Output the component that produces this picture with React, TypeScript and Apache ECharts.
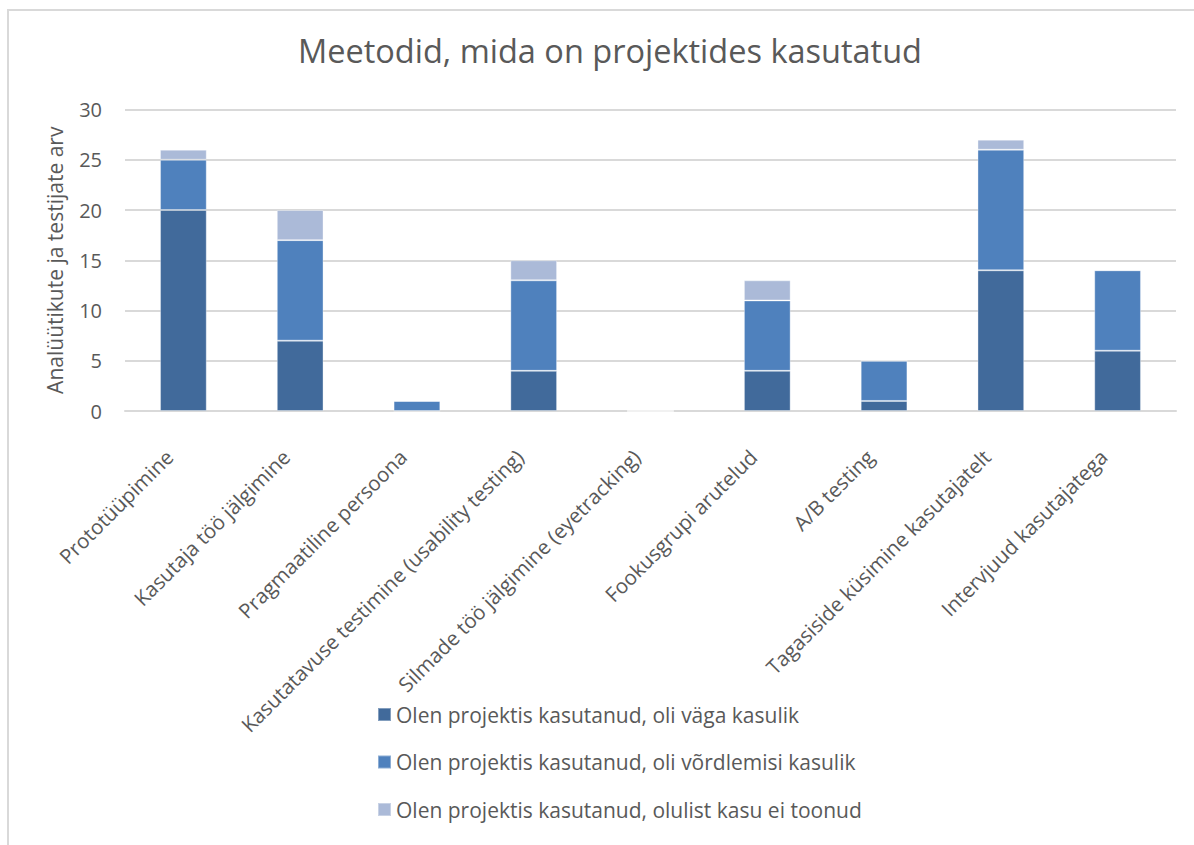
import React, { useEffect, useRef } from "react";
import * as echarts from "echarts";

const categories = [
  "Prototüüpimine",
  "Kasutaja töö jälgimine",
  "Pragmaatiline persoona",
  "Kasutatavuse testimine (usability testing)",
  "Silmade töö jälgimine (eyetracking)",
  "Fookusgrupi arutelud",
  "A/B testing",
  "Tagasiside küsimine kasutajatelt",
  "Intervjuud kasutajatega",
];
const seriesNames = [
  "Olen projektis kasutanud, oli väga kasulik",
  "Olen projektis kasutanud, oli võrdlemisi kasulik",
  "Olen projektis kasutanud, olulist kasu ei toonud",
];
const veryUseful = [20, 7, 0, 4, 0, 4, 1, 14, 6];
const fairlyUseful = [5, 10, 1, 9, 0, 7, 4, 12, 8];
const notUseful = [1, 3, 0, 2, 0, 2, 0, 1, 0];
const colors = ["#416a9b", "#4f81bd", "#abbad8"];

const FONT = "'Open Sans', 'Noto Sans', sans-serif";
const TXT = "#595959";

export default function App() {
  const ref = useRef<HTMLDivElement>(null);
  useEffect(() => {
    const chart = echarts.init(ref.current!, null, { renderer: "svg" });
    const data = [veryUseful, fairlyUseful, notUseful];
    chart.setOption({
      animation: false,
      backgroundColor: "#ffffff",
      textStyle: { fontFamily: FONT },
      title: {
        text: "Meetodid, mida on projektides kasutatud",
        left: 293,
        top: 29,
        textStyle: { fontFamily: FONT, fontSize: 32.5, fontWeight: "normal", color: TXT },
      },
      grid: { left: 125, right: 18, top: 109.5, bottom: 434, containLabel: false },
      legend: {
        orient: "vertical",
        left: 372,
        top: 695,
        itemWidth: 13,
        itemHeight: 13,
        itemGap: 18.5,
        icon: "rect",
        textStyle: { fontFamily: FONT, fontSize: 21, color: TXT, lineHeight: 29 },
        data: seriesNames,
      },
      xAxis: {
        type: "category",
        data: categories,
        axisLine: { lineStyle: { color: "#d9d9d9", width: 2 } },
        axisTick: { show: false },
        axisLabel: {
          rotate: 45,
          interval: 0,
          margin: 28,
          padding: [0, 20, 0, 0],
          fontFamily: FONT,
          fontSize: 20.5,
          color: TXT,
        },
      },
      yAxis: {
        type: "value",
        min: 0,
        max: 30,
        interval: 5,
        name: "Analüütikute ja testijate arv",
        nameLocation: "middle",
        nameGap: 60,
        nameTextStyle: { fontFamily: FONT, fontSize: 21, color: TXT },
        axisLine: { show: false },
        axisTick: { show: false },
        axisLabel: { margin: 23, fontFamily: FONT, fontSize: 20, color: TXT },
        splitLine: { lineStyle: { color: "#d9d9d9", width: 2 } },
      },
      graphic: [
        {
          type: "rect",
          shape: { x: 8, y: 10, width: 1400, height: 1000 },
          style: { fill: "none", stroke: "#d9d9d9", lineWidth: 2 },
          silent: true,
        },
      ],
      series: seriesNames.map((name, i) => ({
        name,
        type: "bar",
        stack: "total",
        barWidth: "40%",
        data: data[i],
        itemStyle: { color: colors[i], borderColor: "rgba(255,255,255,0.35)", borderWidth: 1 },
      })),
    });
    return () => chart.dispose();
  }, []);
  return (
    <div
      ref={ref}
      style={{ position: "absolute", left: 0, top: 0, width: 1194, height: 845 }}
    />
  );
}
